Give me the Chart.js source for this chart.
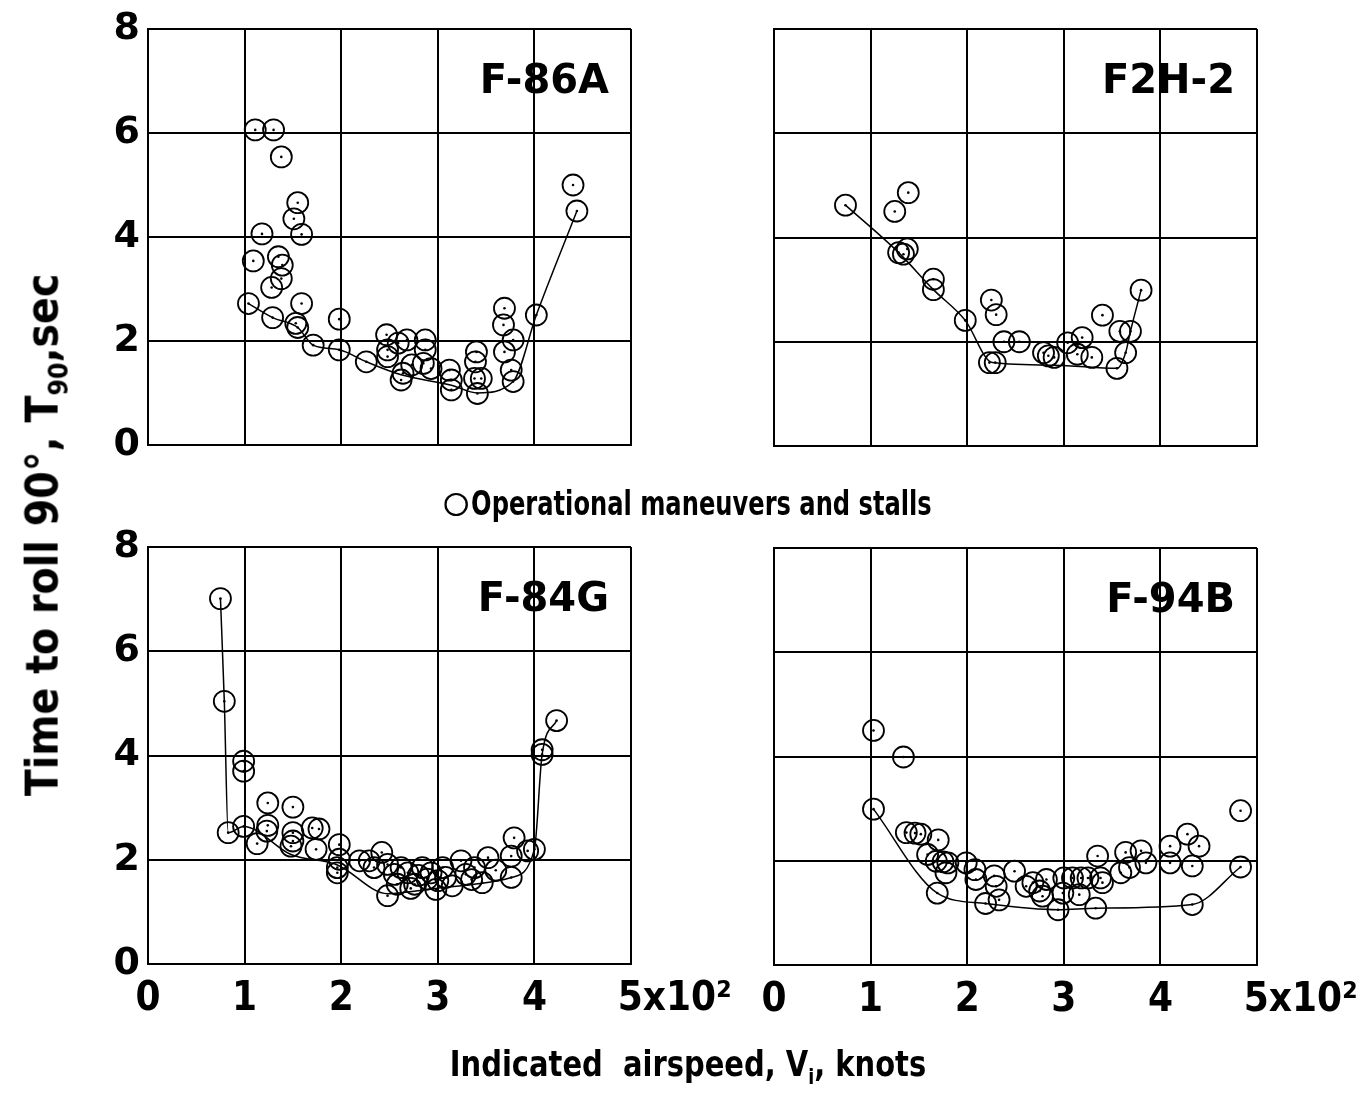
<!DOCTYPE html>
<html>
<head>
<meta charset="utf-8">
<script src="https://cdn.jsdelivr.net/npm/chart.js@4.4.1/dist/chart.umd.min.js"></script>
<style>
    body { margin: 0; background: #fff; width: 1363px; height: 1102px; position: relative; overflow: hidden; }
    canvas { position: absolute; left: 0; top: 0; }
    .txt { position: absolute; font-family: "Liberation Sans Narrow", "DejaVu Sans Condensed", Roboto, sans-serif; font-weight: bold; color: #000; white-space: nowrap; }
    .txt sub { font-size: 60%; }
    #ytitle { left: 45px; top: 535px; font-size: 44px; transform: translate(-50%, -50%) rotate(-90deg); }
    #xtitle { left: 688px; top: 1066px; font-size: 35px; transform: translate(-50%, -50%) scaleX(0.92); }
    #legend { left: 688px; top: 503px; font-size: 34px; transform: translate(-50%, -50%) scaleX(0.79); }
    #legend .mark { display: inline-block; width: 24px; height: 19px; border: 2.5px solid #000; border-left-width: 3px; border-right-width: 3px; border-radius: 50%; margin-right: 4px; vertical-align: -1px; }
</style>
</head>
<body>
<canvas id="f86a" width="1363" height="1102"></canvas>
<canvas id="f2h2" width="1363" height="1102"></canvas>
<canvas id="f84g" width="1363" height="1102"></canvas>
<canvas id="f94b" width="1363" height="1102"></canvas>
<div class="txt" id="ytitle">Time to roll 90°, T<sub>90</sub>,sec</div>
<div class="txt" id="legend"><span class="mark"></span>Operational maneuvers and stalls</div>
<div class="txt" id="xtitle">Indicated&nbsp; airspeed, V<sub>i</sub>, knots</div>
<script>
// airspeed in units of 10^2 knots, time to roll 90 deg in sec
const xTickLabels = ['0', '1', '2', '3', '4', '       5x10\u00b2'];
const yTickLabels = ['0', '2', '4', '6', '8'];

const f86aSpeed = [1.11, 1.30, 1.38, 1.55, 1.51, 1.59, 1.18, 1.09, 1.35, 1.39, 1.38, 1.28, 1.04, 1.59, 1.29, 1.53, 1.55, 1.71, 1.98, 1.98, 2.26, 2.47, 2.48, 2.48, 2.59, 2.68, 2.62, 2.64, 2.73, 2.87, 2.87, 2.85, 2.93, 3.12, 3.14, 3.14, 3.40, 3.39, 3.38, 3.45, 3.41, 3.69, 3.68, 3.78, 3.69, 3.76, 3.78, 4.02, 4.44, 4.40];
const f86aTime = [6.06, 6.06, 5.54, 4.66, 4.35, 4.05, 4.06, 3.54, 3.62, 3.46, 3.20, 3.03, 2.72, 2.72, 2.45, 2.34, 2.26, 1.92, 2.42, 1.83, 1.60, 2.12, 1.83, 1.70, 1.96, 2.02, 1.25, 1.38, 1.54, 2.02, 1.83, 1.57, 1.47, 1.44, 1.25, 1.06, 1.79, 1.60, 1.28, 1.28, 0.99, 2.63, 2.31, 2.02, 1.79, 1.44, 1.22, 2.50, 4.50, 5.00];
const f86aCurveSpeed = [1.04, 1.29, 1.55, 1.71, 1.98, 2.26, 2.62, 3.14, 3.41, 3.78, 4.02, 4.44];
const f86aCurveTime = [2.72, 2.45, 2.26, 1.92, 1.83, 1.60, 1.35, 1.15, 1.00, 1.22, 2.50, 4.50];

const f2h2Speed = [0.74, 1.25, 1.39, 1.29, 1.38, 1.34, 1.65, 1.65, 1.98, 2.25, 2.30, 2.23, 2.29, 2.38, 2.54, 2.79, 2.84, 2.90, 3.04, 3.19, 3.14, 3.29, 3.40, 3.55, 3.64, 3.58, 3.69, 3.80];
const f2h2Time = [4.62, 4.50, 4.86, 3.71, 3.78, 3.68, 3.20, 3.00, 2.41, 2.80, 2.52, 1.60, 1.60, 2.00, 2.00, 1.79, 1.73, 1.70, 1.98, 2.08, 1.76, 1.70, 2.51, 1.49, 1.79, 2.20, 2.20, 2.99];
const f2h2CurveSpeed = [0.74, 1.29, 1.65, 1.98, 2.26, 2.90, 3.55, 3.64, 3.69, 3.80];
const f2h2CurveTime = [4.62, 3.71, 3.00, 2.41, 1.60, 1.55, 1.49, 1.79, 2.20, 2.99];

const f84gSpeed = [0.75, 0.79, 0.99, 0.99, 0.83, 0.99, 1.24, 1.50, 1.24, 1.23, 1.13, 1.50, 1.50, 1.48, 1.70, 1.77, 1.74, 1.98, 1.98, 1.96, 1.96, 2.19, 2.29, 2.34, 2.42, 2.48, 2.55, 2.48, 2.58, 2.69, 2.76, 2.84, 2.89, 2.98, 3.05, 3.08, 3.24, 3.29, 3.38, 3.46, 3.52, 3.76, 3.79, 3.76, 3.93, 4.00, 4.08, 4.08, 4.23, 2.62, 2.72, 2.80, 2.93, 3.00, 3.15, 3.35, 3.60];
const f84gTime = [7.01, 5.04, 3.89, 3.70, 2.52, 2.64, 3.09, 3.01, 2.66, 2.55, 2.31, 2.52, 2.36, 2.26, 2.61, 2.59, 2.20, 2.29, 2.01, 1.85, 1.75, 1.98, 1.98, 1.85, 2.14, 1.91, 1.72, 1.31, 1.53, 1.75, 1.53, 1.85, 1.63, 1.43, 1.85, 1.66, 1.98, 1.72, 1.85, 1.56, 2.04, 1.66, 2.42, 2.07, 2.17, 2.20, 4.02, 4.11, 4.67, 1.85, 1.45, 1.70, 1.75, 1.60, 1.50, 1.62, 1.80];
const f84gCurveSpeed = [0.75, 0.79, 0.83, 0.99, 1.48, 1.96, 2.48, 2.98, 3.46, 3.76, 4.00, 4.08, 4.23];
const f84gCurveTime = [7.01, 5.04, 2.52, 2.64, 2.10, 1.90, 1.35, 1.45, 1.55, 1.66, 2.20, 4.02, 4.67];

const f94bSpeed = [1.03, 1.34, 1.03, 1.37, 1.46, 1.52, 1.70, 1.59, 1.68, 1.75, 1.80, 1.78, 1.99, 2.08, 2.09, 2.28, 2.30, 2.49, 2.33, 2.19, 1.69, 2.61, 2.68, 2.75, 2.82, 2.78, 2.94, 2.99, 3.00, 3.09, 3.18, 3.25, 3.16, 3.33, 3.35, 3.38, 3.40, 3.59, 3.64, 3.68, 3.80, 3.85, 4.10, 4.10, 4.28, 4.40, 4.33, 4.33, 4.83, 4.83];
const f94bTime = [4.50, 3.99, 2.99, 2.54, 2.53, 2.51, 2.40, 2.12, 1.99, 1.98, 1.96, 1.77, 1.96, 1.83, 1.64, 1.71, 1.51, 1.80, 1.25, 1.18, 1.38, 1.51, 1.58, 1.42, 1.64, 1.32, 1.06, 1.38, 1.67, 1.67, 1.67, 1.67, 1.35, 1.09, 2.09, 1.67, 1.58, 1.77, 2.16, 1.87, 2.19, 1.96, 2.28, 1.96, 2.51, 2.28, 1.90, 1.16, 2.96, 1.88];
const f94bCurveSpeed = [1.03, 1.69, 2.19, 2.94, 3.33, 4.33, 4.83];
const f94bCurveTime = [2.99, 1.38, 1.18, 1.06, 1.09, 1.16, 1.88];

const NARROW = '"Liberation Sans Narrow", "DejaVu Sans Condensed", Roboto, sans-serif';

const panelLabel = {
    id: 'panelLabel',
    afterDraw(chart, args, opts) {
        const { ctx, chartArea } = chart;
        ctx.save();
        ctx.font = 'bold 40px "DejaVu Sans"';
        ctx.fillStyle = '#000';
        ctx.textAlign = 'right';
        ctx.textBaseline = 'middle';
        ctx.fillText(opts.text, chartArea.right - 22, chartArea.top + 54);
        ctx.restore();
    }
};

function toPoints(xs, ys) {
    return xs.map((x, i) => ({ x: x, y: ys[i] }));
}

function makePanel(id, cfg) {
    const pts = toPoints(cfg.speed, cfg.time);
    return new Chart(document.getElementById(id), {
        type: 'scatter',
        data: {
            datasets: [{
                type: 'line',
                data: toPoints(cfg.curveSpeed, cfg.curveTime),
                borderColor: '#000',
                borderWidth: 1.5,
                pointRadius: 0,
                cubicInterpolationMode: 'monotone',
                fill: false
            }, {
                data: pts,
                pointRadius: 10.5,
                pointBorderWidth: 1.8,
                pointBorderColor: '#000',
                pointBackgroundColor: 'rgba(0,0,0,0)'
            }, {
                data: pts,
                pointRadius: 1.3,
                pointBorderWidth: 0,
                pointBackgroundColor: '#000'
            }]
        },
        options: {
            responsive: false,
            animation: false,
            events: [],
            layout: { padding: cfg.padding },
            plugins: {
                legend: { display: false },
                tooltip: { enabled: false },
                panelLabel: { text: cfg.label }
            },
            scales: {
                x: {
                    type: 'linear',
                    min: 0,
                    max: 5,
                    afterFit: (s) => {
                        // keep the plot box where it is, labels may overflow
                        s.height = cfg.showX ? 60 : 0;
                        s.paddingLeft = 0;
                        s.paddingRight = 0;
                    },
                    ticks: {
                        stepSize: 1,
                        display: cfg.showX,
                        autoSkip: false,
                        maxRotation: 0,
                        padding: 12,
                        color: '#000',
                        font: { family: NARROW, size: 40, weight: 'bold' },
                        callback: (v, i) => xTickLabels[i]
                    },
                    grid: { color: '#000', lineWidth: 2, drawTicks: false },
                    border: { color: '#000', width: 2 }
                },
                y: {
                    min: 0,
                    max: 8,
                    afterFit: (s) => {
                        s.width = cfg.showY ? 60 : 0;
                        s.paddingTop = 0;
                        s.paddingBottom = 0;
                    },
                    ticks: {
                        stepSize: 2,
                        display: cfg.showY,
                        padding: 8,
                        color: '#000',
                        font: { family: '"DejaVu Sans"', size: 38, weight: 'bold' },
                        callback: (v, i) => yTickLabels[i]
                    },
                    grid: { color: '#000', lineWidth: 2, drawTicks: false },
                    border: { color: '#000', width: 2 }
                }
            }
        },
        plugins: [panelLabel]
    });
}

makePanel('f86a', {
    speed: f86aSpeed, time: f86aTime, curveSpeed: f86aCurveSpeed, curveTime: f86aCurveTime,
    label: 'F-86A', showX: false, showY: true,
    padding: { left: 88, right: 732, top: 29, bottom: 657 }
});
makePanel('f2h2', {
    speed: f2h2Speed, time: f2h2Time, curveSpeed: f2h2CurveSpeed, curveTime: f2h2CurveTime,
    label: 'F2H-2', showX: false, showY: false,
    padding: { left: 774, right: 106, top: 29, bottom: 656 }
});
makePanel('f84g', {
    speed: f84gSpeed, time: f84gTime, curveSpeed: f84gCurveSpeed, curveTime: f84gCurveTime,
    label: 'F-84G', showX: true, showY: true,
    padding: { left: 88, right: 732, top: 547, bottom: 78 }
});
makePanel('f94b', {
    speed: f94bSpeed, time: f94bTime, curveSpeed: f94bCurveSpeed, curveTime: f94bCurveTime,
    label: 'F-94B', showX: true, showY: false,
    padding: { left: 774, right: 106, top: 548, bottom: 77 }
});
</script>
</body>
</html>
